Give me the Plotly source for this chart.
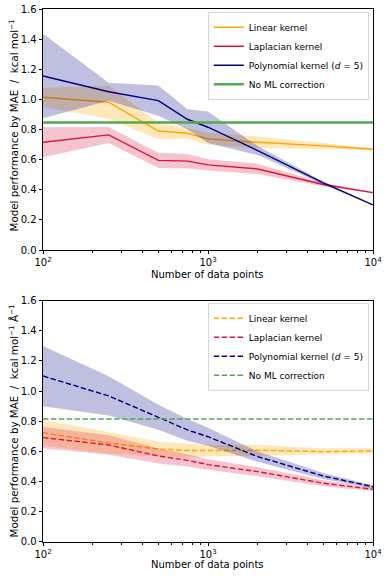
import plotly.graph_objects as go

# ---------------- data ----------------
n_points = [100, 250, 500, 750, 1000, 2000, 5000, 10000]

# top panel (energies, kcal/mol)
linear_top = [1.014, 0.981, 0.790, 0.775, 0.738, 0.715, 0.691, 0.669]
linear_top_err = [0.063, 0.11, 0.055, 0.035, 0.04, 0.038, 0.02, 0.006]
lap_top = [0.715, 0.764, 0.595, 0.590, 0.565, 0.538, 0.435, 0.381]
lap_top_err = [0.10, 0.053, 0.05, 0.047, 0.037, 0.035, 0.012, 0.004]
poly_top = [1.155, 1.051, 0.992, 0.868, 0.815, 0.660, 0.445, 0.299]
poly_top_err = [0.28, 0.06, 0.10, 0.066, 0.105, 0.03, 0.01, 0.005]
noml_top = 0.846

# bottom panel (forces, kcal/mol/Å)
linear_bot = [0.724, 0.655, 0.616, 0.605, 0.605, 0.607, 0.598, 0.603]
linear_bot_err = [0.085, 0.07, 0.05, 0.045, 0.04, 0.035, 0.02, 0.018]
lap_bot = [0.691, 0.642, 0.569, 0.540, 0.512, 0.465, 0.388, 0.348]
lap_bot_err = [0.07, 0.065, 0.05, 0.04, 0.035, 0.03, 0.02, 0.012]
poly_bot = [1.10, 0.968, 0.826, 0.742, 0.697, 0.565, 0.436, 0.365]
poly_bot_err = [0.20, 0.13, 0.083, 0.072, 0.06, 0.034, 0.02, 0.01]
noml_bot = 0.815

series_names = ["Linear kernel", "Laplacian kernel",
                "Polynomial kernel (<i>d</i> = 5)", "No ML correction"]
x_tickvals = [100, 1000, 10000]
x_ticktext = ["10<sup>2</sup>", "10<sup>3</sup>", "10<sup>4</sup>"]
y_tickvals = [0.0, 0.2, 0.4, 0.6, 0.8, 1.0, 1.2, 1.4, 1.6]

# ---------------- styling ----------------
W, H = 389, 576
FONT = "DejaVu Sans"
line_colors = ["#FFA500", "#DC143C", "#000080"]
band_colors = ["rgba(255,165,0,0.27)", "rgba(220,20,60,0.25)", "rgba(0,0,128,0.25)"]
green = "rgb(80,170,80)"

fig = go.Figure()


def add_panel(fig, xa, ya, legend, means, errs, noml, dash):
    for i, (m, e) in enumerate(zip(means, errs)):
        fig.add_trace(go.Scatter(
            x=n_points, y=m, mode="lines", name=series_names[i],
            line=dict(color=line_colors[i], width=1.4, dash=dash),
            xaxis=xa, yaxis=ya, legend=legend, showlegend=True))
        upper = [a + b for a, b in zip(m, e)]
        lower = [a - b for a, b in zip(m, e)]
        fig.add_trace(go.Scatter(
            x=n_points, y=upper, mode="lines", line=dict(width=0),
            xaxis=xa, yaxis=ya, showlegend=False, hoverinfo="skip"))
        fig.add_trace(go.Scatter(
            x=n_points, y=lower, mode="lines", line=dict(width=0),
            fill="tonexty", fillcolor=band_colors[i],
            xaxis=xa, yaxis=ya, showlegend=False, hoverinfo="skip"))
    fig.add_trace(go.Scatter(
        x=[n_points[0], n_points[-1]], y=[noml, noml], mode="lines",
        name=series_names[3],
        line=dict(color=green, width=2.4 if dash is None else 1.6, dash=dash),
        xaxis=xa, yaxis=ya, legend=legend, showlegend=True))


add_panel(fig, "x", "y", "legend",
          [linear_top, lap_top, poly_top], [linear_top_err, lap_top_err, poly_top_err],
          noml_top, None)
add_panel(fig, "x2", "y2", "legend2",
          [linear_bot, lap_bot, poly_bot], [linear_bot_err, lap_bot_err, poly_bot_err],
          noml_bot, "5.5px,2.4px")

xdom = [43 / W, 373 / W]
ydom_top = [1 - 250 / H, 1 - 9 / H]
ydom_bot = [1 - 541.7 / H, 1 - 300.7 / H]

minor_vals = [v * d for d in (100, 1000) for v in range(2, 10)]

xaxis_common = dict(
    type="log", range=[2, 4], domain=xdom,
    tickvals=x_tickvals, ticktext=x_ticktext,
    ticks="outside", ticklen=3.5, tickwidth=0.8, tickcolor="black",
    showline=True, linecolor="black", linewidth=0.8, mirror=True,
    showgrid=False, zeroline=False, automargin=False,
    tickfont=dict(family=FONT, size=10, color="black"),
    minor=dict(tickvals=minor_vals, ticks="outside", ticklen=2,
               tickwidth=0.6, tickcolor="black", showgrid=False),
)
yaxis_common = dict(
    range=[0, 1.6], tickvals=y_tickvals,
    ticktext=[f"{v:.1f}" for v in y_tickvals],
    ticks="outside", ticklen=3.5, tickwidth=0.8, tickcolor="black",
    showline=True, linecolor="black", linewidth=0.8, mirror=True,
    showgrid=False, zeroline=False, automargin=False,
    tickfont=dict(family=FONT, size=10, color="black"),
)

legend_common = dict(
    xanchor="right", yanchor="top", traceorder="normal",
    bgcolor="rgba(255,255,255,0.85)", bordercolor="#cccccc", borderwidth=0.8,
    font=dict(family=FONT, size=9, color="black"),
    tracegroupgap=0, itemwidth=30,
)

fig.update_layout(
    width=W, height=H,
    margin=dict(l=0, r=0, t=0, b=0),
    paper_bgcolor="white", plot_bgcolor="white",
    showlegend=True,
    xaxis=dict(anchor="y", **xaxis_common),
    yaxis=dict(anchor="x", domain=ydom_top, **yaxis_common),
    xaxis2=dict(anchor="y2", **xaxis_common),
    yaxis2=dict(anchor="x2", domain=ydom_bot, **yaxis_common),
    legend=dict(x=369 / W, y=1 - 12 / H, **legend_common),
    legend2=dict(x=369 / W, y=1 - 303 / H, **legend_common),
    font=dict(family=FONT, color="black"),
)

ann_font = dict(family=FONT, size=10, color="black")
yt_font = dict(family=FONT, size=10.3, color="black")
fig.add_annotation(text="Number of data points", x=208 / W, y=1 - 274 / H,
                   xref="paper", yref="paper", showarrow=False, font=ann_font,
                   xanchor="center", yanchor="middle")
fig.add_annotation(text="Number of data points", x=208 / W, y=1 - 564.5 / H,
                   xref="paper", yref="paper", showarrow=False, font=ann_font,
                   xanchor="center", yanchor="middle")
fig.add_annotation(text="Model performance by MAE  /  kcal mol<sup>−1</sup>",
                   x=12.5 / W, y=1 - 126 / H, xref="paper", yref="paper",
                   showarrow=False, font=yt_font, textangle=-90,
                   xanchor="center", yanchor="middle")
fig.add_annotation(text="Model performance by MAE  /  kcal mol<sup>−1</sup> Å<sup>−1</sup>",
                   x=12.5 / W, y=1 - 421 / H, xref="paper", yref="paper",
                   showarrow=False, font=yt_font, textangle=-90,
                   xanchor="center", yanchor="middle")

fig.write_html(
    "out.html",
    config={"displayModeBar": False},
    post_script="document.body.style.margin='0';document.body.style.overflow='hidden';",
)
